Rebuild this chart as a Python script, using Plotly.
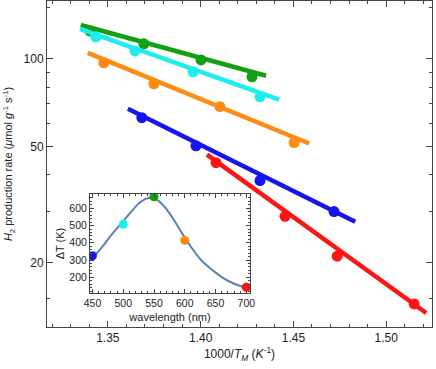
import plotly.graph_objects as go

# main panel: rate vs 1000/T_M, one set per wavelength
green_x = [1.3403, 1.3694, 1.4002, 1.4277]
green_y = [124.7, 112.6, 99.2, 86.8]
cyan_x = [1.3435, 1.3646, 1.3959, 1.4320]
cyan_y = [118.9, 106.5, 90.3, 74.1]
orange_x = [1.3478, 1.3748, 1.4104, 1.4504]
orange_y = [96.9, 82.1, 68.5, 51.6]
blue_x = [1.3683, 1.3975, 1.4320, 1.4719]
blue_y = [62.8, 50.3, 38.2, 29.9]
red_x = [1.4083, 1.4455, 1.4736, 1.5151]
red_y = [44.0, 28.8, 21.0, 14.4]

# fitted lines (end points)
green_fx = [1.3354, 1.4353]
green_fy = [130.7, 87.5]
cyan_fx = [1.3349, 1.4423]
cyan_fy = [126.7, 72.4]
orange_fx = [1.3392, 1.4585]
orange_fy = [104.8, 51.2]
blue_fx = [1.3608, 1.4833]
blue_fy = [67.4, 27.6]
red_fx = [1.4034, 1.5216]
red_fy = [46.9, 13.4]

# inset: temperature rise vs wavelength
wl = [450, 500, 550, 600, 700]
dT = [325, 507, 667, 414, 142]
curve_wl = [449, 464, 480.5, 497, 513, 526.6, 540, 553.6, 567, 580.7, 594, 610, 626.6, 648, 670, 694, 701]
curve_dT = [310, 368, 445, 513, 580, 632, 658, 652, 609, 542, 464, 377, 300, 233, 180, 145, 140]

GREEN = "#12a012"
CYAN = "#1ceeee"
ORANGE = "#ff8a14"
BLUE = "#1414f0"
RED = "#ff1414"
sets = [
    (green_x, green_y, green_fx, green_fy, GREEN),
    (cyan_x, cyan_y, cyan_fx, cyan_fy, CYAN),
    (orange_x, orange_y, orange_fx, orange_fy, ORANGE),
    (blue_x, blue_y, blue_fx, blue_fy, BLUE),
    (red_x, red_y, red_fx, red_fy, RED),
]

fig = go.Figure()
for px, py, fx, fy, c in sets:
    fig.add_trace(go.Scatter(x=fx, y=fy, mode="lines", line=dict(color=c, width=4.5)))
    fig.add_trace(go.Scatter(x=px, y=py, mode="markers", marker=dict(color=c, size=11)))

fig.add_trace(go.Scatter(x=curve_wl, y=curve_dT, mode="lines", line=dict(color="#5e81b5", width=2, shape="spline"),
                         xaxis="x2", yaxis="y2"))
fig.add_trace(go.Scatter(x=wl, y=dT, mode="markers", xaxis="x2", yaxis="y2",
                         marker=dict(color=[BLUE, CYAN, GREEN, ORANGE, RED], size=9)))

LINE = "#444444"
TXT = "#222222"
frame = dict(showline=True, linecolor=LINE, linewidth=1, mirror="ticks", ticks="inside",
             tickcolor=LINE, showgrid=False, zeroline=False, automargin=False)

fig.update_layout(
    width=436, height=369,
    margin=dict(l=47, r=4, t=1, b=42),
    paper_bgcolor="white", plot_bgcolor="white",
    showlegend=False,
    font=dict(family="Liberation Sans, Arial, sans-serif", size=12, color=TXT),
    xaxis=dict(frame, range=[1.3172, 1.5247], tickvals=[1.35, 1.40, 1.45, 1.50],
               tickformat=".2f", ticklen=6,
               minor=dict(dtick=0.01, tick0=1.3, ticklen=3, ticks="inside", tickcolor=LINE),
               title=dict(text="1000/<i>T</i><sub><i>M</i></sub> (<i>K</i><sup>-1</sup>)", standoff=3,
                          font=dict(size=12))),
    yaxis=dict(frame, type="log", range=[1.0792, 2.1987], tickvals=[20, 50, 100], ticklen=6,
               minor=dict(tickvals=[15, 30, 40, 60, 70, 80, 90, 150], ticklen=3, ticks="inside", tickcolor=LINE),
               title=dict(text="<i>H</i><sub>2</sub> production rate (<i>μ</i>mol <i>g</i><sup>-1</sup> s<sup>-1</sup>)",
                          standoff=8, font=dict(size=11))),
    xaxis2=dict(frame, domain=[0.1117, 0.5273], anchor="y2", range=[446, 706],
                tickvals=[450, 500, 550, 600, 650, 700], ticklen=4, tickfont=dict(size=10.5),
                minor=dict(dtick=10, tick0=450, ticklen=2, ticks="inside", tickcolor=LINE),
                title=dict(text="wavelength (nm)", standoff=5, font=dict(size=11))),
    yaxis2=dict(frame, domain=[0.1043, 0.408], anchor="x2", range=[109, 683],
                tickvals=[200, 300, 400, 500, 600], ticklen=4, tickfont=dict(size=10.5),
                minor=dict(dtick=20, tick0=100, ticklen=2, ticks="inside", tickcolor=LINE),
                title=dict(text="ΔT (K)", standoff=2, font=dict(size=11))),
)

# page body has a default 8px margin; drop it so the figure sits at the corner
fig.write_html("out.html", config={"displayModeBar": False},
               post_script="document.body.style.margin='0';")
